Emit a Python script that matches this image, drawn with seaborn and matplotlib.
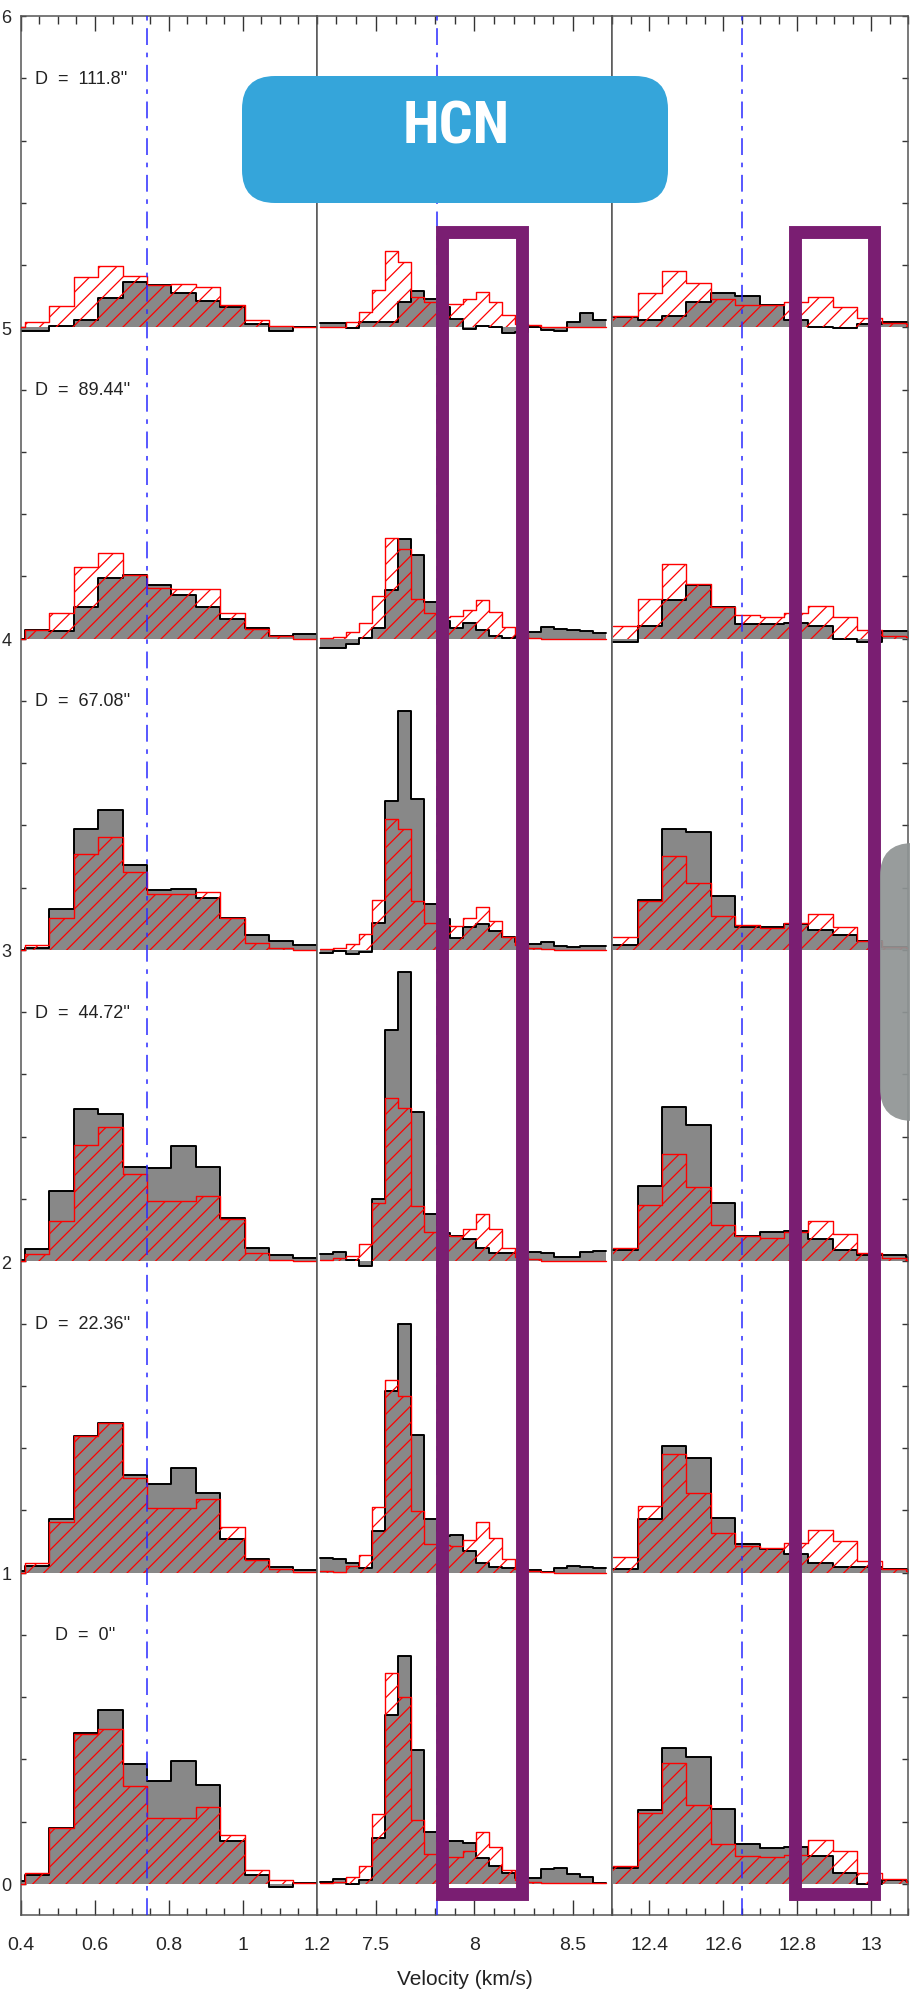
import numpy as np
import matplotlib
matplotlib.use("Agg")
import matplotlib.pyplot as plt
from matplotlib.patches import FancyBboxPatch, Rectangle
from matplotlib.ticker import MultipleLocator, FixedLocator, FixedFormatter
import seaborn as sns

# channel width of the spectra (km/s) and first bin edge of each velocity window
chan = 0.066
start1, nb1 = 0.3448, 13
start2, nb2 = 7.2167, 22
start3, nb3 = 12.3024, 13

dist_labels = ["D = 0''", "D = 22.36''", "D = 44.72''", "D = 67.08''", "D = 89.44''", "D = 111.8''"]
offsets = [0, 1, 2, 3, 4, 5]
centre_vel = [0.741, 7.812, 12.65]

# window 1 (0.4 - 1.2 km/s): observed (grey) and model (red) per offset 0..5
win1_obs = [
    [0.01, 0.029, 0.179, 0.485, 0.56, 0.385, 0.332, 0.396, 0.318, 0.139, 0.03, -0.009, 0.003],
    [0.005, 0.021, 0.173, 0.44, 0.48, 0.313, 0.284, 0.335, 0.254, 0.107, 0.043, 0.018, 0.009],
    [0.005, 0.04, 0.227, 0.49, 0.474, 0.304, 0.299, 0.369, 0.304, 0.14, 0.042, 0.019, 0.012],
    [0.0, 0.005, 0.131, 0.39, 0.451, 0.273, 0.192, 0.196, 0.168, 0.103, 0.047, 0.028, 0.016],
    [0.0, 0.028, 0.023, 0.10, 0.194, 0.203, 0.171, 0.14, 0.10, 0.063, 0.033, 0.007, 0.014],
    [-0.012, -0.012, 0.005, 0.024, 0.093, 0.147, 0.136, 0.109, 0.084, 0.064, 0.011, -0.011, 0.0],
]
win1_mod = [
    [0.0, 0.035, 0.179, 0.482, 0.496, 0.314, 0.211, 0.211, 0.246, 0.158, 0.043, 0.011, 0.003],
    [0.0, 0.032, 0.161, 0.44, 0.48, 0.305, 0.206, 0.206, 0.236, 0.145, 0.041, 0.011, 0.002],
    [0.0, 0.023, 0.128, 0.374, 0.432, 0.28, 0.194, 0.194, 0.21, 0.136, 0.028, 0.005, 0.0],
    [0.0, 0.016, 0.103, 0.308, 0.364, 0.25, 0.18, 0.18, 0.187, 0.103, 0.023, 0.005, 0.0],
    [0.0, 0.028, 0.082, 0.229, 0.276, 0.203, 0.164, 0.159, 0.159, 0.082, 0.03, 0.007, 0.0],
    [0.0, 0.018, 0.067, 0.163, 0.198, 0.164, 0.136, 0.139, 0.128, 0.072, 0.025, 0.005, 0.0],
]

# window 2 (7.2 - 8.7 km/s)
win2_obs = [
    [0.007, 0.016, 0.0, 0.013, 0.147, 0.541, 0.731, 0.43, 0.166, 0.139, 0.139, 0.131, 0.082, 0.059, 0.035, 0.02, 0.018, 0.048, 0.051, 0.032, 0.021, 0.002],
    [0.048, 0.045, 0.032, 0.016, 0.134, 0.583, 0.80, 0.443, 0.171, 0.118, 0.12, 0.07, 0.032, 0.019, 0.016, 0.01, 0.009, 0.003, 0.014, 0.021, 0.019, 0.016],
    [0.022, 0.03, 0.004, -0.014, 0.2, 0.742, 0.93, 0.48, 0.151, 0.09, 0.081, 0.072, 0.042, 0.027, 0.028, 0.025, 0.03, 0.027, 0.015, 0.015, 0.03, 0.033],
    [-0.011, -0.005, -0.012, -0.008, 0.088, 0.477, 0.766, 0.486, 0.149, 0.10, 0.037, 0.074, 0.082, 0.062, 0.043, 0.025, 0.019, 0.024, 0.013, 0.01, 0.012, 0.013],
    [-0.029, -0.029, -0.018, 0.002, 0.033, 0.155, 0.321, 0.269, 0.117, 0.058, 0.033, 0.049, 0.029, 0.008, 0.002, 0.01, 0.02, 0.037, 0.032, 0.029, 0.026, 0.018],
    [0.013, 0.013, -0.003, 0.016, 0.018, 0.018, 0.08, 0.116, 0.091, 0.064, 0.027, -0.005, 0.005, 0.002, -0.018, -0.016, 0.0, -0.009, -0.011, 0.018, 0.046, 0.025],
]
win2_mod = [
    [0.002, 0.005, 0.021, 0.059, 0.225, 0.678, 0.60, 0.206, 0.096, 0.086, 0.086, 0.107, 0.168, 0.118, 0.046, 0.012, 0.007, 0.003, 0.002, 0.002, 0.002, 0.002],
    [0.005, 0.002, 0.021, 0.056, 0.209, 0.62, 0.568, 0.198, 0.093, 0.09, 0.086, 0.104, 0.163, 0.112, 0.043, 0.01, 0.005, 0.002, 0.0, 0.0, 0.0, 0.0],
    [0.004, 0.01, 0.018, 0.054, 0.188, 0.525, 0.493, 0.178, 0.093, 0.085, 0.081, 0.103, 0.151, 0.103, 0.042, 0.015, 0.006, 0.002, 0.0, 0.0, 0.0, 0.0],
    [0.004, 0.007, 0.02, 0.052, 0.16, 0.419, 0.39, 0.157, 0.088, 0.08, 0.076, 0.103, 0.139, 0.094, 0.043, 0.015, 0.007, 0.002, 0.0, 0.0, 0.0, 0.0],
    [0.002, 0.006, 0.02, 0.049, 0.138, 0.324, 0.289, 0.126, 0.082, 0.07, 0.072, 0.093, 0.123, 0.085, 0.037, 0.015, 0.002, 0.0, 0.0, 0.0, 0.0, 0.0],
    [0.0, 0.0, 0.018, 0.048, 0.121, 0.244, 0.209, 0.096, 0.08, 0.075, 0.075, 0.091, 0.112, 0.08, 0.04, 0.01, 0.007, 0.002, 0.0, 0.0, 0.0, 0.0],
]

# window 3 (12.3 - 13.1 km/s)
win3_obs = [
    [0.05, 0.238, 0.436, 0.407, 0.241, 0.128, 0.116, 0.12, 0.089, 0.034, 0.0, 0.011, 0.01],
    [0.011, 0.173, 0.408, 0.369, 0.175, 0.091, 0.075, 0.059, 0.03, 0.019, 0.019, 0.011, 0.01],
    [0.035, 0.241, 0.495, 0.437, 0.187, 0.082, 0.093, 0.098, 0.07, 0.035, 0.019, 0.019, 0.015],
    [0.016, 0.161, 0.39, 0.379, 0.173, 0.075, 0.075, 0.082, 0.063, 0.047, 0.028, 0.01, 0.01],
    [-0.012, 0.04, 0.124, 0.171, 0.10, 0.047, 0.047, 0.051, 0.04, 0.0, -0.012, 0.023, 0.023],
    [0.034, 0.025, 0.037, 0.08, 0.109, 0.102, 0.072, 0.025, 0.0, -0.002, 0.011, 0.018, 0.018],
]
win3_mod = [
    [0.057, 0.228, 0.389, 0.252, 0.128, 0.091, 0.086, 0.093, 0.142, 0.105, 0.035, 0.016, 0.005],
    [0.051, 0.214, 0.38, 0.254, 0.126, 0.086, 0.08, 0.096, 0.137, 0.102, 0.037, 0.011, 0.005],
    [0.042, 0.182, 0.346, 0.238, 0.117, 0.082, 0.075, 0.093, 0.128, 0.086, 0.028, 0.012, 0.005],
    [0.04, 0.157, 0.301, 0.215, 0.11, 0.079, 0.07, 0.086, 0.117, 0.075, 0.028, 0.01, 0.005],
    [0.04, 0.128, 0.241, 0.175, 0.10, 0.075, 0.07, 0.082, 0.105, 0.068, 0.028, 0.007, 0.005],
    [0.037, 0.109, 0.182, 0.141, 0.091, 0.072, 0.072, 0.082, 0.096, 0.064, 0.029, 0.014, 0.01],
]

sns.set_theme(style="white")
plt.rcParams["font.family"] = ["Liberation Sans", "DejaVu Sans"]
plt.rcParams["hatch.color"] = "red"
plt.rcParams["hatch.linewidth"] = 0.9

W, H = 910, 1999
fig = plt.figure(figsize=(W / 100, H / 100), dpi=100)

windows = [
    dict(start=start1, nb=nb1, obs=win1_obs, mod=win1_mod, xlim=(0.4, 1.2),
         major=[0.4, 0.6, 0.8, 1.0, 1.2], labels=["0.4", "0.6", "0.8", "1", "1.2"], minor=0.05),
    dict(start=start2, nb=nb2, obs=win2_obs, mod=win2_mod, xlim=(7.2, 8.7),
         major=[7.5, 8.0, 8.5], labels=["7.5", "8", "8.5"], minor=0.1),
    dict(start=start3, nb=nb3, obs=win3_obs, mod=win3_mod, xlim=(12.3, 13.1),
         major=[12.4, 12.6, 12.8, 13.0], labels=["12.4", "12.6", "12.8", "13"], minor=0.05),
]

axes = []
for i, win in enumerate(windows):
    ax = fig.add_axes([(21 + 295.7 * i) / W, 83 / H, 295.7 / W, 1899 / H])
    axes.append(ax)
    edges = win["start"] + chan * np.arange(win["nb"] + 1)
    for off, obs, mod in zip(offsets, win["obs"], win["mod"]):
        yo = np.append(obs, obs[-1]) + off
        ym = np.append(mod, mod[-1]) + off
        ax.fill_between(edges, off, yo, step="post", color="#888888", lw=0, zorder=1)
        sns.lineplot(x=edges, y=yo, drawstyle="steps-post", color="black", lw=1.4,
                     estimator=None, sort=False, ax=ax, zorder=2)
        ax.fill_between(edges, off, ym, step="post", facecolor="none", edgecolor="red",
                        hatch="//", lw=0, zorder=3)
        sns.lineplot(x=edges, y=ym, drawstyle="steps-post", color="red", lw=1.0,
                     estimator=None, sort=False, ax=ax, zorder=4)

    ax.axvline(centre_vel[i], color="#2a2aff", lw=1.1, dashes=(11, 5, 3, 5), zorder=5)

    ax.set_xlim(*win["xlim"])
    ax.set_ylim(-0.1, 6)
    ax.xaxis.set_major_locator(FixedLocator(win["major"]))
    ax.xaxis.set_major_formatter(FixedFormatter(win["labels"]))
    ax.xaxis.set_minor_locator(MultipleLocator(win["minor"]))
    ax.tick_params(axis="x", which="both", direction="in", top=True, bottom=True,
                   color="#333333", width=1.0, labelsize=14, pad=15)
    ax.tick_params(axis="x", which="major", length=10.8)
    ax.tick_params(axis="x", which="minor", length=5.4)
    ax.set_xlabel("")
    ax.set_ylabel("")
    for sp in ax.spines.values():
        sp.set_color("#555555")
        sp.set_linewidth(1.1)

    ax.yaxis.set_major_locator(MultipleLocator(1))
    ax.yaxis.set_minor_locator(MultipleLocator(0.2))
    if i == 0:
        ax.tick_params(axis="y", which="both", direction="in", left=True, right=False,
                       length=3.6, width=1.0, color="#333333", labelsize=13, pad=7)
    elif i == 2:
        ax.tick_params(axis="y", which="both", direction="in", left=False, right=True,
                       labelleft=False, length=4.3, width=1.0, color="#333333")
    else:
        ax.tick_params(axis="y", which="both", left=False, right=False, labelleft=False)

axes[0].yaxis.set_major_formatter(plt.FormatStrFormatter("%d"))

for off, lab in zip(offsets, dist_labels):
    xpos = 0.492 if off == 0 else 0.438
    axes[0].text(xpos, off + 0.8, lab.replace(" = ", "  =  "), fontsize=13,
                 va="center", ha="left", color="#222222", zorder=6)

fig.text(464.5 / W, 1 - 1980 / H, "Velocity (km/s)", ha="center", va="center",
         fontsize=15, color="#222222")

# highlighted velocity ranges
purple = "#7A1E72"
axes[1].add_patch(Rectangle((7.834, -0.034), 0.406, 5.34, fill=False, ec=purple,
                            lw=9.3, joinstyle="miter", clip_on=False, zorder=10))
axes[2].add_patch(Rectangle((12.793, -0.034), 0.216, 5.34, fill=False, ec=purple,
                            lw=9.3, joinstyle="miter", clip_on=False, zorder=10))

# molecule tag and side tab
fig.add_artist(FancyBboxPatch((2.42, (H - 204) / 100), 4.26, 1.27,
                              boxstyle="round,pad=0,rounding_size=0.33",
                              transform=fig.dpi_scale_trans, fc="#35A5DA", ec="none", zorder=20))
fig.text(456 / W, 1 - 127 / H, "HCN", ha="center", va="center", fontsize=43,
         fontweight="bold", fontstretch="condensed", color="white",
         family=["Roboto Condensed", "Open Sans Condensed", "Liberation Sans Narrow", "DejaVu Sans"],
         zorder=21)
fig.add_artist(FancyBboxPatch((8.80, (H - 1122) / 100), 1.0, 2.78,
                              boxstyle="round,pad=0,rounding_size=0.33",
                              transform=fig.dpi_scale_trans, fc="#8F9494", ec="none",
                              alpha=0.92, zorder=20))

fig.savefig("out.png", dpi=100)
